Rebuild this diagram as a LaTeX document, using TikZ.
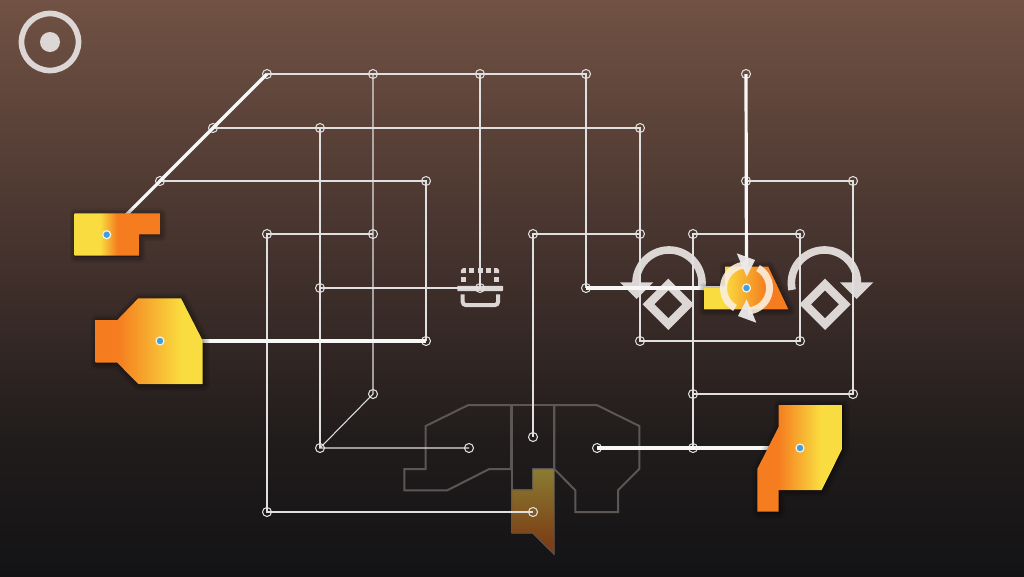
\documentclass[tikz,border=0pt]{standalone}
\usetikzlibrary{calc}
\definecolor{ylw}{HTML}{F9DC3F}
\definecolor{org}{HTML}{F57C1F}
\definecolor{icon}{HTML}{DCD7D5}
\definecolor{ghostline}{HTML}{5C5754}
\definecolor{cream}{HTML}{FBEFDF}
\definecolor{dotblue}{HTML}{3FA0DC}
\definecolor{b0}{HTML}{131315}
\definecolor{b1}{HTML}{211C1C}
\definecolor{b2}{HTML}{3E2E2A}
\definecolor{b3}{HTML}{715244}
\pgfdeclareverticalshading{bgshade}{100bp}{color(0bp)=(b0); color(25bp)=(b0); color(37bp)=(b1); color(50bp)=(b2); color(75bp)=(b3); color(100bp)=(b3)}
\pgfdeclarehorizontalshading{sa}{100bp}{color(0bp)=(ylw); color(40bp)=(ylw); color(50bp)=(org); color(100bp)=(org)}
\pgfdeclarehorizontalshading{sb}{100bp}{color(0bp)=(org); color(35bp)=(org); color(65bp)=(ylw); color(100bp)=(ylw)}
\pgfdeclarehorizontalshading{sc}{100bp}{color(0bp)=(org); color(37bp)=(org); color(62bp)=(ylw); color(100bp)=(ylw)}
\pgfdeclarehorizontalshading{sd}{100bp}{color(0bp)=(ylw); color(37bp)=(ylw); color(62bp)=(org); color(100bp)=(org)}
\definecolor{olv}{HTML}{8B7C32}
\definecolor{brn}{HTML}{7C3F16}
\pgfdeclareverticalshading{se}{100bp}{color(0bp)=(brn); color(32bp)=(brn); color(75bp)=(olv); color(100bp)=(olv)}
\tikzset{
  pin/.style={circle,draw=white!88!black,line width=1.05pt,minimum size=9pt,inner sep=0pt,fill=none},
  hub/.style={circle,draw=cream,fill=dotblue,line width=1.2pt,minimum size=8pt,inner sep=0pt},
  wirelight/.style={draw=white!88!black,line width=1.05pt},
  wireheavy/.style={draw=white!97!black,line width=3.2pt},
  ghost/.style={draw=ghostline,line width=2pt,line join=miter},
  shad/.style={draw=black,line join=round,opacity=0.07},
  iconarc/.style={draw=icon,line width=7.6pt},
  ringarc/.style={draw=cream,opacity=0.9,line width=7pt},
}
\newcommand{\softshadow}[1]{%
  \foreach \w in {12,9,6,3}{\path[shad,line width=\w pt,fill=black,xshift=.8pt,yshift=-.8pt] #1;}%
}
\newcommand{\arcplot}[6]{% style, cx, cy, r, from, to
  \draw[#1] plot[domain=#5:#6,samples=70] ({#2+#4*cos(\x)},{#3+#4*sin(\x)});
}
\begin{document}
\begin{tikzpicture}[x=1pt,y=-1pt]
\useasboundingbox (0,0) rectangle (1024,576);
\shade[shading=bgshade] (0,0) rectangle (1024,576);
% ghost outlines
\draw[ghost] (511,405) -- (468.3,405) -- (425.7,426) -- (425.7,469) -- (404.3,469) -- (404.3,490.3) -- (447.3,490.3) -- (489.3,469) -- (511,469) -- cycle;
\draw[ghost] (511.7,405) -- (554.3,405) -- (554.3,469) -- (532.7,469) -- (532.7,490) -- (511.7,490) -- cycle;
\draw[ghost] (554.3,405) -- (596.7,405) -- (639.3,426) -- (639.3,469) -- (618,490.3) -- (618,512) -- (575.3,512) -- (575.3,490.3) -- (554.3,469) -- cycle;
% filled piece in the slot
\shade[shading=se,draw=ghostline,line width=.8pt] (511.7,490) -- (532.7,490) -- (532.7,469) -- (554.3,469) -- (554.3,554.7) -- (532.7,533.3) -- (511.7,533.3) -- cycle;
% top-left icon
\draw[draw=icon,line width=5.7pt] (50,42) circle[radius=28.5];
\fill[icon] (50,42) circle[radius=10];
% box icon
\fill[icon,rounded corners=.6pt] (457.3,285.8) rectangle (503,291);
\draw[icon,line width=4pt,rounded corners=3pt] (462.7,294.3) -- (462.7,305) -- (498,305) -- (498,294.3);
\foreach \xx in {471.7,480,488.3}{\fill[icon] (\xx-2.5,268.2) rectangle (\xx+2.5,273.2);}
\fill[icon] (460.8,273.2) -- (460.8,270.2) -- (462.8,268.2) -- (465.8,268.2) -- (465.8,273.2) -- cycle;
\fill[icon] (499.2,273.2) -- (499.2,270.2) -- (497.2,268.2) -- (494.2,268.2) -- (494.2,273.2) -- cycle;
\fill[icon] (460.8,277.2) rectangle (465.8,282.2);
\fill[icon] (494.2,277.2) rectangle (499.2,282.2);
% rotate icons
\arcplot{iconarc}{669}{283}{33}{12}{-180}
\fill[icon] (620,282.3) -- (653.3,282.3) -- (636.7,299) -- cycle;
\fill[icon,even odd rule] (668.3,278.6) -- (694,304.3) -- (668.3,330) -- (642.6,304.3) -- cycle (668.3,290.3) -- (654.3,304.3) -- (668.3,318.3) -- (682.3,304.3) -- cycle;
\arcplot{iconarc}{824.4}{283}{33}{168}{360}
\fill[icon] (840,282.3) -- (873.3,282.3) -- (856.7,299) -- cycle;
\fill[icon,even odd rule] (825,278.6) -- (850.7,304.3) -- (825,330) -- (799.3,304.3) -- cycle (825,290.3) -- (811,304.3) -- (825,318.3) -- (839,304.3) -- cycle;
% pins
\foreach \nm/\xx/\yy in {a1/267/74,a2/373/74,a3/480/74,a4/586/74,a5/746/74,
  b1/213/128,b2/320/128,b3/640/128,
  c1/160/181,c2/426/181,c3/746/181,c4/853/181,
  e1/267/234,e2/373/234,e3/533/234,e4/640/234,e5/693/234,e6/800/234,
  f1/320/288,f2/480/288,f3/586/288,
  g1/426/341,g2/640/341,g3/800/341,
  h1/373/394,h2/693/394,h3/853/394,
  i1/320/448,i2/469/448,i3/597/448,i4/693/448,i5/533/437,
  j1/267/512,j2/533/512}{\node[pin] (\nm) at (\xx,\yy) {};}
\coordinate (d1) at (106.7,234.7);
\coordinate (d2) at (160,341);
\coordinate (d3) at (746.5,288);
\coordinate (d4) at (800,448);
% thin wires
\path[wirelight] (a1.center) -- (a2.center) -- (a3.center) -- (a4.center) -- (f3.center);
\path[wirelight] (a2.center) -- (e2.center) -- (h1.center) -- (i1.center) -- (i2.center);
\path[wirelight] (a3.center) -- (f2.center) -- (f1.center);
\path[wirelight] (b1.center) -- (b2.center) -- (b3.center) -- (e4.center) -- (g2.center) -- (g3.center) -- (e6.center) -- (e5.center) -- (h2.center) -- (i4.center);
\path[wirelight] (b2.center) -- (f1.center) -- (i1.center);
\path[wirelight] (c1.center) -- (c2.center) -- (g1.center);
\path[wirelight] (c3.center) -- (c4.center) -- (h3.center) -- (h2.center);
\path[wirelight] (e2.center) -- (e1.center) -- (j1.center) -- (j2.center);
\path[wirelight] (e4.center) -- (e3.center) -- (i5.center);
% thick wires
\path[wireheavy] (a1.center) -- (b1.center) -- (c1.center) -- (d1);
\path[wireheavy] (g1.center) -- (d2);
\path[wireheavy] (f3.center) -- (d3);
\path[wireheavy] (a5.center) -- (d3);
\path[wireheavy] (i3.center) -- (i4.center) -- (d4);
% pieces
\softshadow{(74.7,213.3) -- (160,213.3) -- (160,234.3) -- (139,234.3) -- (139,255.7) -- (74.7,255.7) -- cycle}
\shade[shading=sa] (74.7,213.3) -- (160,213.3) -- (160,234.3) -- (139,234.3) -- (139,255.7) -- (74.7,255.7) -- cycle;
\softshadow{(95.7,320) -- (117.3,320) -- (138.3,298.3) -- (181,298.3) -- (202.7,340.7) -- (202.7,384) -- (138.3,384) -- (117.3,362.7) -- (95.7,362.7) -- cycle}
\shade[shading=sb] (95.7,320) -- (117.3,320) -- (138.3,298.3) -- (181,298.3) -- (202.7,340.7) -- (202.7,384) -- (138.3,384) -- (117.3,362.7) -- (95.7,362.7) -- cycle;
\softshadow{(778.7,405) -- (842.7,405) -- (842.7,447.7) -- (821.7,490) -- (778.7,490) -- (778.7,511.7) -- (757.3,511.7) -- (757.3,469) -- (778.7,426.7) -- cycle}
\shade[shading=sc] (778.7,405) -- (842.7,405) -- (842.7,447.7) -- (821.7,490) -- (778.7,490) -- (778.7,511.7) -- (757.3,511.7) -- (757.3,469) -- (778.7,426.7) -- cycle;
\softshadow{(704,287.7) -- (725,287.7) -- (725,266.7) -- (768.3,266.7) -- (788.3,309.3) -- (704,309.3) -- cycle}
\shade[shading=sd] (704,287.7) -- (725,287.7) -- (725,266.7) -- (768.3,266.7) -- (788.3,309.3) -- (704,309.3) -- cycle;
% rotation ring
\arcplot{ringarc}{746.5}{288}{23}{-94}{-240}
\arcplot{ringarc}{746.5}{288}{23}{-60}{86}
\fill[icon!50!white,opacity=.95] (736.7,253.3) -- (755,260) -- (746.7,276.7) -- cycle;
\fill[icon!50!white,opacity=.95] (756.3,322.7) -- (738,316) -- (746.7,299.3) -- cycle;
% hubs
\node[hub] (n1) at (d1) {};
\node[hub] (n2) at (d2) {};
\node[hub] (n3) at (d3) {};
\node[hub] (n4) at (d4) {};
\end{tikzpicture}
\end{document}
